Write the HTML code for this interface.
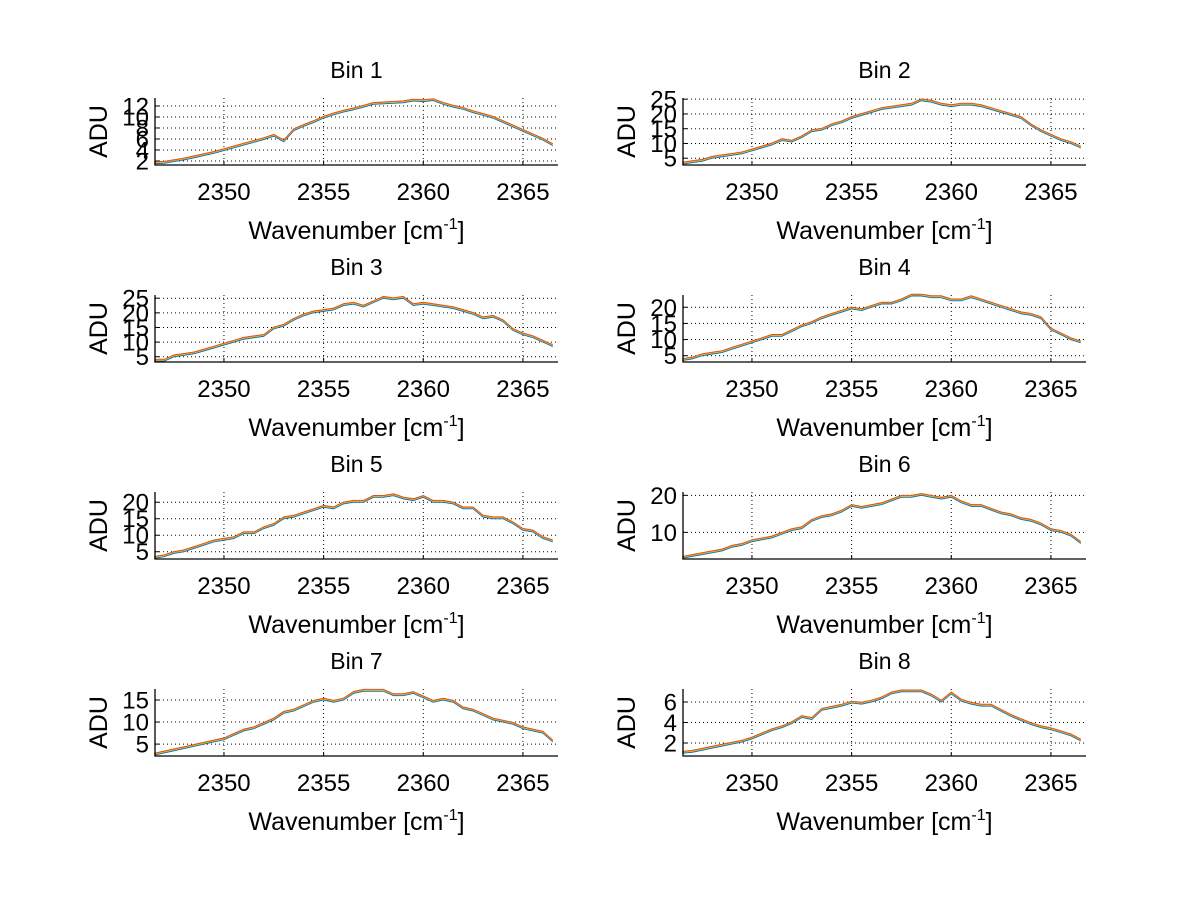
<!DOCTYPE html>
<html><head><meta charset="utf-8"><style>
html,body{margin:0;padding:0;background:#fff}
svg{display:block;font-family:"Liberation Sans",sans-serif}
</style></head><body>
<svg id="fig" width="1200" height="901" viewBox="0 0 1200 901"></svg>
<script>
const wavenumbers = Array.from({length:41},(_,i)=>2346.5+i*0.5);
const xTicks = [2350,2355,2360,2365];
const bin1 = [1.5,1.6,1.9,2.2,2.6,3.0,3.4,3.9,4.4,4.9,5.4,5.9,6.5,5.5,7.5,8.3,9.0,9.8,10.4,10.9,11.3,11.8,12.3,12.4,12.5,12.6,12.9,12.8,13.0,12.3,11.8,11.4,10.8,10.3,9.8,9.0,8.2,7.4,6.6,5.8,4.8];
const bin2 = [3,3.5,4,5,5.5,6,6.5,7.5,8.5,9.5,11,10.5,12,14,14.5,16,17,18.5,19.5,20.5,21.5,22,22.5,23,24.5,24,23,22.5,23,23,22.5,21.5,20.5,19.5,18.5,16,14,12.5,11,10,8.5];
const bin3 = [3.5,3.5,5,5.5,6,7,8,9,10,11,11.5,12,14.5,15.5,17.5,19,20,20.5,21,22.5,23,22,23.5,25,24.5,25,22.5,23,22.5,22,21.5,20.5,19.5,18,18.5,17,14,12.5,11.5,10,8.5];
const bin4 = [3.5,4,5,5.5,6,7,8,9,10,11,11,12.5,14,15,16.5,17.5,18.5,19.5,19,20,21,21,22,23.5,23.5,23,23,22,22,23,22,21,20,19,18,17.5,16.5,13,11.5,10,9];
const bin5 = [3,3.5,4.5,5,6,7,8,8.5,9,10.5,10.5,12,13,15,15.5,16.5,17.5,18.5,18,19.5,20,20,21.5,21.5,22,21,20.5,21.5,20,20,19.5,18,18,15.5,15,15,13.5,11.5,11,9,8];
const bin6 = [3,3.5,4,4.5,5,6,6.5,7.5,8,8.5,9.5,10.5,11,13,14,14.5,15.5,17,16.5,17,17.5,18.5,19.5,19.5,20,19.5,19,19.5,18,17,17,16,15,14.5,13.5,13,12,10.5,10,9,7];
const bin7 = [2.5,3,3.5,4,4.5,5,5.5,6,7,8,8.5,9.5,10.5,12,12.5,13.5,14.5,15,14.5,15,16.5,17,17,17,16,16,16.5,15.5,14.5,15,14.5,13,12.5,11.5,10.5,10,9.5,8.5,8,7.5,5.5];
const bin8 = [1,1.1,1.3,1.5,1.7,1.9,2.1,2.4,2.8,3.2,3.5,3.9,4.5,4.3,5.2,5.4,5.6,5.9,5.8,6,6.3,6.8,7,7,7,6.6,6,6.8,6.1,5.8,5.6,5.6,5.1,4.6,4.2,3.8,3.5,3.3,3,2.7,2.2];
const yTicks1 = [2,4,6,8,10,12];
const yTicks2 = [5,10,15,20,25];
const yTicks3 = [5,10,15,20,25];
const yTicks4 = [5,10,15,20];
const yTicks5 = [5,10,15,20];
const yTicks6 = [10,20];
const yTicks7 = [5,10,15];
const yTicks8 = [2,4,6];
const yRanges = [[1.27,13.45],[2.7,25.4],[3.2,26.1],[3.05,23.8],[2.8,23.1],[2.8,20.9],[2.3,17.5],[0.73,7.27]];

const NS="http://www.w3.org/2000/svg";
const svg=document.getElementById('fig');
function mk(tag,attrs,parent){const e=document.createElementNS(NS,tag);for(const k in attrs)e.setAttribute(k,attrs[k]);(parent||svg).appendChild(e);return e;}
const bins=[bin1,bin2,bin3,bin4,bin5,bin6,bin7,bin8];
const ticksAll=[yTicks1,yTicks2,yTicks3,yTicks4,yTicks5,yTicks6,yTicks7,yTicks8];
const XMIN=2346.54, XMAX=2366.76;
bins.forEach((data,b)=>{
  const col=b%2,row=Math.floor(b/2);
  const L=col?683:155, R=col?1086:558, T=98+row*197, B=T+67;
  const [y0,y1]=yRanges[b];
  const sx=v=>L+(v-XMIN)/(XMAX-XMIN)*(R-L);
  const sy=v=>B-(v-y0)/(y1-y0)*(B-T);
  const g=mk('g',{});
  
  
  xTicks.forEach(t=>{
    const x=sx(t);
    const gl=mk('line',{x1:x,x2:x,y1:T,y2:B,stroke:'#000','stroke-width':1,'stroke-dasharray':'1,3'},g);
    
    
    mk('line',{x1:x,x2:x,y1:B,y2:B-4,stroke:'#000','stroke-width':1},g);
    const tl=mk('text',{x:x,y:B+35,'font-size':24,'text-anchor':'middle',fill:'#000'},g);
    tl.textContent=t;
    
    
  });
  ticksAll[b].forEach(t=>{
    const y=sy(t);
    const gl=mk('line',{x1:L,x2:R,y1:y,y2:y,stroke:'#000','stroke-width':1,'stroke-dasharray':'1,3'},g);
    
    
    mk('line',{x1:L,x2:L+4,y1:y,y2:y,stroke:'#000','stroke-width':1},g);
    const tl=mk('text',{x:L-6,y:y+8.5,'font-size':24,'text-anchor':'end',fill:'#000'},g);
    tl.textContent=t;
    
    
  });
  const pts=data.map((v,i)=>sx(wavenumbers[i]).toFixed(1)+','+sy(v).toFixed(1)).join(' ');
  [['#0072BD',0],['#EDB120',-1],['#D95319',-1.8]].forEach(([c,dy],k)=>{
    const pl=mk('polyline',{points:pts,fill:'none',stroke:c,'stroke-width':1,transform:'translate(0,'+dy+')'},g);
    
    
  });
  const ax=mk('path',{d:`M${L},${T}V${B}H${R}`,fill:'none',stroke:'#000','stroke-width':1.3},g);
  
  
  const title=mk('text',{x:(L+R)/2,y:T-20,'font-size':23,'text-anchor':'middle',fill:'#000'},g);
  title.textContent='Bin '+(b+1);
  
  
  const yl=mk('text',{x:0,y:0,'font-size':25,'text-anchor':'middle',fill:'#000',transform:`translate(${L-48},${(T+B)/2}) rotate(-90)`},g);
  yl.textContent='ADU';
  
  
  const xl=mk('text',{x:(L+R)/2,y:B+74,'font-size':25,'text-anchor':'middle',fill:'#000'},g);
  xl.innerHTML='Wavenumber [cm<tspan dy="-10" font-size="16">-1</tspan><tspan dy="10">]</tspan>';
  
  
});
</script>
</body></html>
